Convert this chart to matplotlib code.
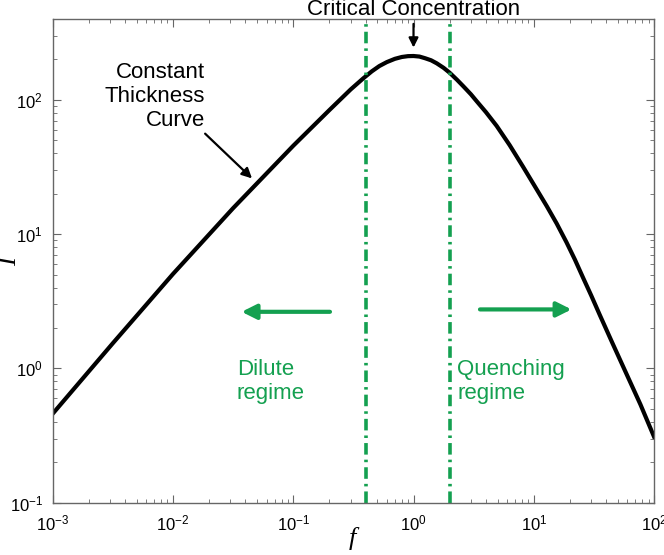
import numpy as np
import matplotlib.pyplot as plt

plt.rcParams['font.family'] = ['Liberation Sans', 'DejaVu Sans']

# curve
f = [0.001, 0.00316, 0.01, 0.0316, 0.1, 0.2, 0.3, 0.382, 0.45, 0.52, 0.6,
     0.7, 0.8, 0.9, 1.0, 1.12, 1.25, 1.4, 1.56, 1.78, 2.0, 2.3, 2.6, 3.0,
     3.34, 4.0, 4.91, 6.3, 8.17, 10.0, 12.8, 15.5, 18.7, 22.0, 25.8, 30.0,
     35.4, 45.0, 59.0, 77.0, 100.0]
I = [0.46, 1.54, 5.05, 15.6, 45.5, 84, 119.4, 144.5, 163, 178.5, 191,
     202, 208.5, 211.5, 212, 210, 204, 197, 187, 173, 159, 141, 126, 110,
     98, 81, 64, 46, 31.6, 23.4, 16.2, 12.0, 8.7, 6.45, 4.7, 3.5,
     2.5, 1.55, 0.91, 0.54, 0.31]

regime_bounds = [0.4, 2.0]
green = '#14a050'

fig = plt.figure(figsize=(6.64, 5.55), dpi=100)
ax = fig.add_axes([0.0794, 0.0942, 0.9056, 0.8716])

ax.plot(f, I, color='black', lw=3, solid_joinstyle='round')
for xb in regime_bounds:
    ax.axvline(xb, color=green, lw=2.6, linestyle=(0, (3.2, 1.4, 0.7, 1.4)))

ax.set_xscale('log')
ax.set_yscale('log')
ax.set_xlim(1e-3, 1e2)
ax.set_ylim(1e-1, 400)

for s in ax.spines.values():
    s.set_color('#666666')
    s.set_linewidth(1)
ax.tick_params(which='both', direction='in', top=True, right=True,
               colors='#666666', labelcolor='black', labelsize=12)
ax.tick_params(which='major', length=6)
ax.tick_params(which='minor', length=3)
ax.tick_params(axis='y', which='major', pad=7)
ax.tick_params(axis='x', which='major', pad=8)

# axis labels, placed by hand like the original
fig.text(352 / 664, 1 - 538 / 555, 'f', fontsize=19, style='italic',
         family='Liberation Serif', ha='center', va='center')
fig.text(10 / 664, 1 - 262 / 555, 'I', fontsize=19, style='italic',
         family='Liberation Serif', ha='center', va='center', rotation=90)

# annotations
ax.annotate('Critical Concentration', xy=(1.0, 245), xytext=(1.0, 395),
            ha='center', va='bottom', fontsize=16, annotation_clip=False,
            arrowprops=dict(arrowstyle='-|>', color='black', lw=1.6,
                            mutation_scale=14, shrinkA=1, shrinkB=0))
ax.text(0.0185, 106, 'Constant\nThickness\nCurve', ha='right', va='center',
        fontsize=16, linespacing=1.2)
ax.annotate('', xy=(0.0454, 26), xytext=(0.0185, 56),
            arrowprops=dict(arrowstyle='-|>', color='black', lw=1.6,
                            mutation_scale=15, shrinkA=0, shrinkB=0))
ax.annotate('', xy=(0.0372, 2.64), xytext=(0.202, 2.64),
            arrowprops=dict(arrowstyle='-|>', color=green, lw=3,
                            mutation_scale=22, shrinkA=0, shrinkB=0))
ax.annotate('', xy=(20.6, 2.75), xytext=(3.57, 2.75),
            arrowprops=dict(arrowstyle='-|>', color=green, lw=3,
                            mutation_scale=22, shrinkA=0, shrinkB=0))
ax.text(0.034, 0.80, 'Dilute\nregime', color=green, fontsize=16,
        ha='left', va='center', linespacing=1.2)
ax.text(2.3, 0.80, 'Quenching\nregime', color=green, fontsize=16,
        ha='left', va='center', linespacing=1.2)

fig.savefig('out.png', dpi=100)
